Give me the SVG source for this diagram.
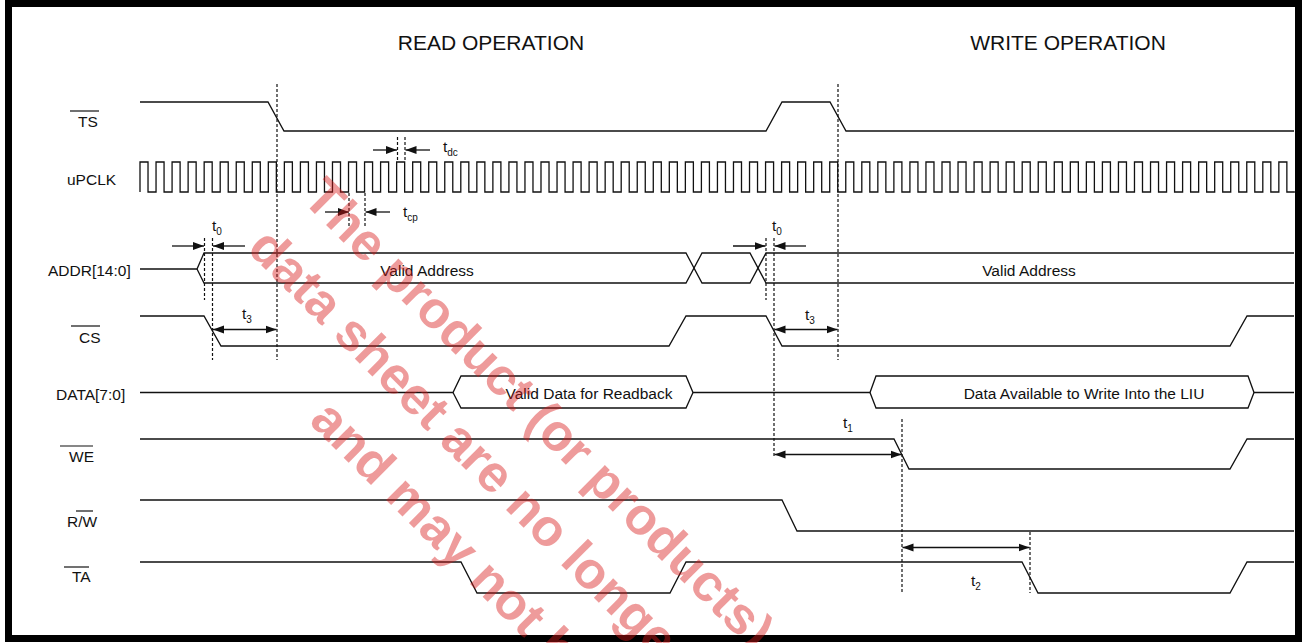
<svg xmlns="http://www.w3.org/2000/svg" width="1303" height="643" viewBox="0 0 1303 643">
<style>
.sig{fill:none;stroke:#111;stroke-width:1.3}
.dash{fill:none;stroke:#111;stroke-width:1.2;stroke-dasharray:3 2}
.arr{fill:none;stroke:#111;stroke-width:1.3}
.lbl{font-family:"Liberation Sans",Arial,sans-serif;font-size:15.5px;fill:#111}
.sub{font-size:10px}
.ttl{font-family:"Liberation Sans",Arial,sans-serif;font-size:21px;fill:#111;text-anchor:middle}
.ol{stroke:#111;stroke-width:1.2}
.wm{font-family:"Liberation Sans",Arial,sans-serif;font-size:52px;font-weight:bold;fill:#d81818;fill-opacity:0.43}
</style>
<defs>
<marker id="ah" markerUnits="userSpaceOnUse" markerWidth="12" markerHeight="10" refX="11" refY="5" orient="auto-start-reverse">
<path d="M0,1 L11,5 L0,9 Z" fill="#111"/>
</marker>
</defs>
<rect x="0" y="0" width="1303" height="643" fill="#fff"/>
<rect x="8.5" y="3.5" width="1290" height="635" fill="none" stroke="#000" stroke-width="7"/>

<g id="titles">
<text class="ttl" x="491" y="50">READ OPERATION</text>
<text class="ttl" x="1068" y="50">WRITE OPERATION</text>
</g>

<g id="labels">
<text class="lbl" x="78" y="127">TS</text><line class="ol" x1="70" y1="111" x2="99" y2="111"/>
<text class="lbl" x="67" y="185">uPCLK</text>
<text class="lbl" x="48" y="276">ADDR[14:0]</text>
<text class="lbl" x="79" y="343">CS</text><line class="ol" x1="71" y1="326" x2="100" y2="326"/>
<text class="lbl" x="56" y="400">DATA[7:0]</text>
<text class="lbl" x="69" y="462">WE</text><line class="ol" x1="60" y1="446" x2="93" y2="446"/>
<text class="lbl" x="67" y="527">R/W</text><line class="ol" x1="76" y1="511" x2="93" y2="511"/>
<text class="lbl" x="72" y="582">TA</text><line class="ol" x1="64" y1="567" x2="89" y2="567"/>
</g>

<g id="sig-ts"><path class="sig" d="M140,102 H268 L284,131 H766 L782,102 H830 L846,131 H1294"/></g>
<g id="sig-clk"><path class="sig" d="M140,192
v-30h8.02v30h8.02 v-30h8.02v30h8.02 v-30h8.02v30h8.02 v-30h8.02v30h8.02 v-30h8.02v30h8.02 v-30h8.02v30h8.02 v-30h8.02v30h8.02 v-30h8.02v30h8.02
v-30h8.02v30h8.02 v-30h8.02v30h8.02 v-30h8.02v30h8.02 v-30h8.02v30h8.02 v-30h8.02v30h8.02 v-30h8.02v30h8.02 v-30h8.02v30h8.02 v-30h8.02v30h8.02
v-30h8.02v30h8.02 v-30h8.02v30h8.02 v-30h8.02v30h8.02 v-30h8.02v30h8.02 v-30h8.02v30h8.02 v-30h8.02v30h8.02 v-30h8.02v30h8.02 v-30h8.02v30h8.02
v-30h8.02v30h8.02 v-30h8.02v30h8.02 v-30h8.02v30h8.02 v-30h8.02v30h8.02 v-30h8.02v30h8.02 v-30h8.02v30h8.02 v-30h8.02v30h8.02 v-30h8.02v30h8.02
v-30h8.02v30h8.02 v-30h8.02v30h8.02 v-30h8.02v30h8.02 v-30h8.02v30h8.02 v-30h8.02v30h8.02 v-30h8.02v30h8.02 v-30h8.02v30h8.02 v-30h8.02v30h8.02
v-30h8.02v30h8.02 v-30h8.02v30h8.02 v-30h8.02v30h8.02 v-30h8.02v30h8.02 v-30h8.02v30h8.02 v-30h8.02v30h8.02 v-30h8.02v30h8.02 v-30h8.02v30h8.02
v-30h8.02v30h8.02 v-30h8.02v30h8.02 v-30h8.02v30h8.02 v-30h8.02v30h8.02 v-30h8.02v30h8.02 v-30h8.02v30h8.02 v-30h8.02v30h8.02 v-30h8.02v30h8.02
v-30h8.02v30h8.02 v-30h8.02v30h8.02 v-30h8.02v30h8.02 v-30h8.02v30h8.02 v-30h8.02v30h8.02 v-30h8.02v30h8.02 v-30h8.02v30h8.02 v-30h8.02v30h8.02
v-30h8.02v30h8.02 v-30h8.02v30h8.02 v-30h8.02v30h8.02 v-30h8.02v30h8.02 v-30h8.02v30h8.02 v-30h8.02v30h8.02 v-30h8.02v30h8.02 v-30h8.02v30h8.02"/></g>
<g id="sig-addr">
<path class="sig" d="M140,269 H197 L204,253 H686 L702,283 H750 L766,253 H1294"/>
<path class="sig" d="M197,269 L204,283 H686 L702,253 H750 L766,283 H1294"/>
<text class="lbl" x="427" y="276" text-anchor="middle">Valid Address</text>
<text class="lbl" x="1029" y="276" text-anchor="middle">Valid Address</text>
</g>
<g id="sig-cs"><path class="sig" d="M140,316 H204 L221,346 H669 L686,316 H766 L782,346 H1230 L1247,316 H1294"/></g>
<g id="sig-data">
<path class="sig" d="M140,392.5 H453 L461,376 H686 L693,392.5 H870 L876,376 H1248 L1254,392.5 H1294"/>
<path class="sig" d="M453,392.5 L461,408 H686 L693,392.5 M870,392.5 L876,408 H1248 L1254,392.5"/>
<text class="lbl" x="589" y="398.5" text-anchor="middle">Valid Data for Readback</text>
<text class="lbl" x="1084" y="398.5" text-anchor="middle">Data Available to Write Into the LIU</text>
</g>
<g id="sig-we"><path class="sig" d="M140,439 H894 L909,469 H1230 L1247,439 H1294"/></g>
<g id="sig-rw"><path class="sig" d="M140,500 H782 L797,531 H1294"/></g>
<g id="sig-ta"><path class="sig" d="M140,562 H461 L477,593 H670 L686,562 H1022 L1038,593 H1230 L1247,562 H1294"/></g>

<g id="connectors">
<line class="dash" x1="277" y1="84" x2="277" y2="360"/>
<line class="dash" x1="838" y1="84" x2="838" y2="360"/>
<line class="dash" x1="397.5" y1="137" x2="397.5" y2="162"/>
<line class="dash" x1="405" y1="137" x2="405" y2="162"/>
<line class="dash" x1="349" y1="193" x2="349" y2="227"/>
<line class="dash" x1="365" y1="193" x2="365" y2="227"/>
<line class="dash" x1="204.5" y1="238" x2="204.5" y2="300"/>
<line class="dash" x1="212.5" y1="238" x2="212.5" y2="360"/>
<line class="dash" x1="766" y1="238" x2="766" y2="300"/>
<line class="dash" x1="774" y1="238" x2="774" y2="457"/>
<line class="dash" x1="902" y1="419" x2="902" y2="593"/>
<line class="dash" x1="1030" y1="532" x2="1030" y2="593"/>

<line class="arr" x1="373" y1="150" x2="397" y2="150" marker-end="url(#ah)"/>
<line class="arr" x1="430" y1="150" x2="405.5" y2="150" marker-end="url(#ah)"/>
<line class="arr" x1="325" y1="212" x2="349" y2="212" marker-end="url(#ah)"/>
<line class="arr" x1="390" y1="212" x2="365.5" y2="212" marker-end="url(#ah)"/>
<line class="arr" x1="172" y1="246" x2="204" y2="246" marker-end="url(#ah)"/>
<line class="arr" x1="245" y1="246" x2="213" y2="246" marker-end="url(#ah)"/>
<line class="arr" x1="733" y1="246" x2="765.5" y2="246" marker-end="url(#ah)"/>
<line class="arr" x1="806" y1="246" x2="774.5" y2="246" marker-end="url(#ah)"/>
<line class="arr" x1="213" y1="329.5" x2="276.5" y2="329.5" marker-start="url(#ah)" marker-end="url(#ah)"/>
<line class="arr" x1="774.5" y1="329.5" x2="837.5" y2="329.5" marker-start="url(#ah)" marker-end="url(#ah)"/>
<line class="arr" x1="774.5" y1="454.5" x2="901.5" y2="454.5" marker-start="url(#ah)" marker-end="url(#ah)"/>
<line class="arr" x1="902.5" y1="547.5" x2="1029.5" y2="547.5" marker-start="url(#ah)" marker-end="url(#ah)"/>
</g>

<g id="timing-labels">
<text class="lbl" x="443" y="152">t<tspan class="sub" dy="4">dc</tspan></text>
<text class="lbl" x="403" y="217">t<tspan class="sub" dy="4">cp</tspan></text>
<text class="lbl" x="212" y="231">t<tspan class="sub" dy="4">0</tspan></text>
<text class="lbl" x="772" y="231">t<tspan class="sub" dy="4">0</tspan></text>
<text class="lbl" x="242" y="319">t<tspan class="sub" dy="4">3</tspan></text>
<text class="lbl" x="805" y="320">t<tspan class="sub" dy="4">3</tspan></text>
<text class="lbl" x="843" y="428">t<tspan class="sub" dy="4">1</tspan></text>
<text class="lbl" x="971" y="586">t<tspan class="sub" dy="4">2</tspan></text>
</g>

<g id="watermark">
<text class="wm" transform="translate(301,200) rotate(45)">The product (or products)</text>
<text class="wm" transform="translate(246,250) rotate(45)">data sheet are no longer</text>
<text class="wm" transform="translate(308,422) rotate(45)">and may not be</text>
</g>
</svg>
